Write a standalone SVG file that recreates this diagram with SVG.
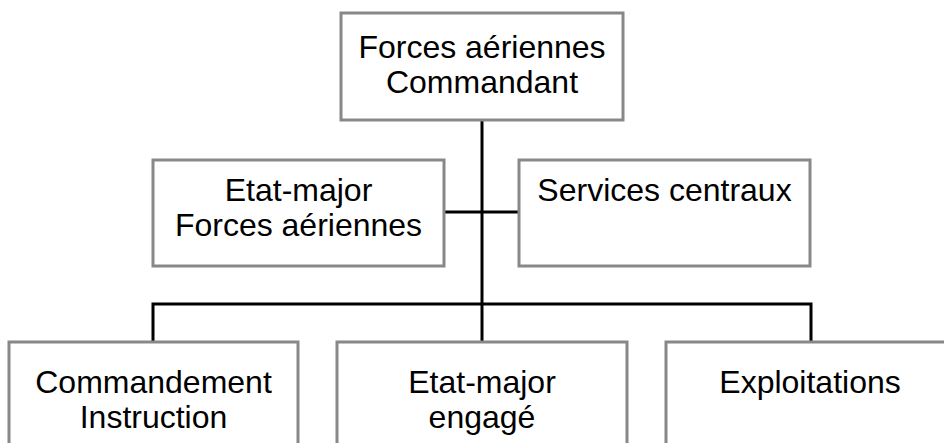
<svg xmlns="http://www.w3.org/2000/svg" width="944" height="443" viewBox="0 0 944 443">
<style>
.box{fill:#fff;stroke:#888;stroke-width:3}
.t{font-family:"Liberation Sans",Arial,sans-serif;font-size:32px;fill:#000;text-anchor:middle}
.c{stroke:#000;stroke-width:3;fill:none}
</style>
<rect width="944" height="443" fill="#fff"/>
<g id="connectors">
<path class="c" d="M482 120V342"/>
<path class="c" d="M444 212H519"/>
<path class="c" d="M153 342V304H811V342"/>
</g>
<g id="n-commandant">
<rect class="box" x="341" y="13" width="282" height="107"/>
<text class="t" x="482" y="58">Forces aériennes</text>
<text class="t" x="482" y="93">Commandant</text>
</g>
<g id="n-etat-major">
<rect class="box" x="153" y="160" width="291" height="106"/>
<text class="t" x="298.5" y="201">Etat-major</text>
<text class="t" x="298.5" y="236">Forces aériennes</text>
</g>
<g id="n-services">
<rect class="box" x="519" y="160" width="291" height="106"/>
<text class="t" x="664.5" y="201">Services centraux</text>
</g>
<g id="n-instruction">
<rect class="box" x="9" y="342" width="289" height="120"/>
<text class="t" x="153.5" y="393">Commandement</text>
<text class="t" x="153.5" y="428">Instruction</text>
</g>
<g id="n-engage">
<rect class="box" x="337" y="342" width="290" height="120"/>
<text class="t" x="482" y="393">Etat-major</text>
<text class="t" x="482" y="428">engagé</text>
</g>
<g id="n-exploitations">
<rect class="box" x="666" y="342" width="290" height="120"/>
<text class="t" x="810" y="393">Exploitations</text>
</g>
</svg>
